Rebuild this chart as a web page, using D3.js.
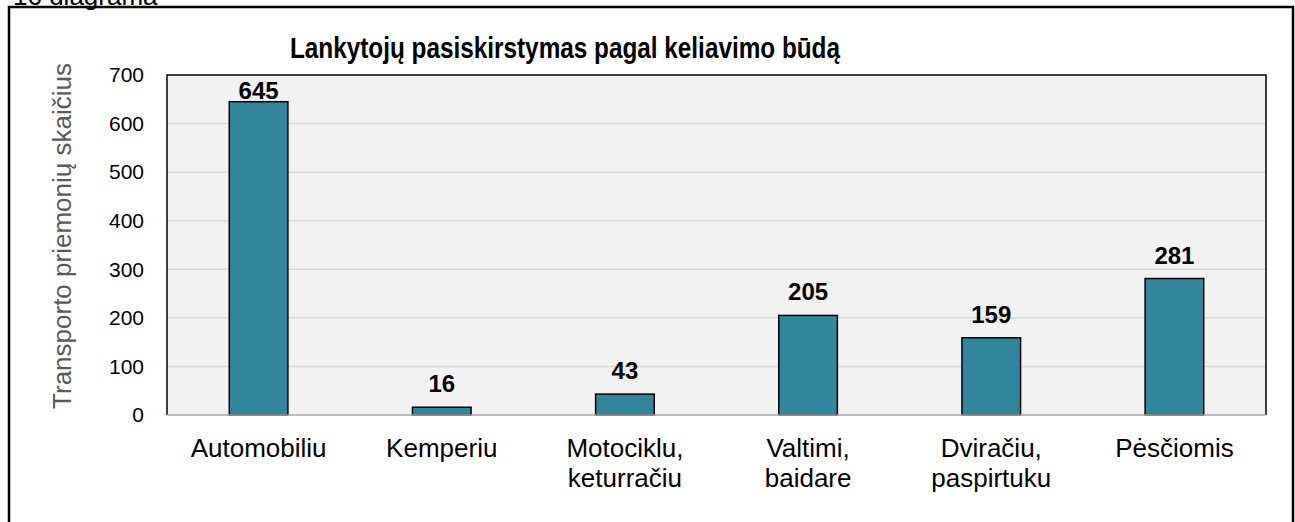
<!DOCTYPE html>
<meta charset="utf-8">
<html>
  <head>
    <style>
      body { margin: 0; background: #fff; }
      text { font-family: Arial, "Liberation Sans", sans-serif; }
    </style>
    <script src="https://d3js.org/d3.v7.min.js"></script>
  </head>
  <body>
<div id="my_dataviz"></div>

<script>

// data
var categories = [["Automobiliu"], ["Kemperiu"], ["Motociklu,", "keturračiu"],
                  ["Valtimi,", "baidare"], ["Dviračiu,", "paspirtuku"], ["Pėsčiomis"]];
var values = [645, 16, 43, 205, 159, 281];
var yTicks = [0, 100, 200, 300, 400, 500, 600, 700];

var W = 1295, H = 522;
var margin = {top: 75, right: 29, bottom: 107, left: 167},
  width = W - margin.left - margin.right,
  height = H - margin.top - margin.bottom;

var root = d3.select("#my_dataviz")
  .append("svg")
  .attr("width", W)
  .attr("height", H);

// caption above the frame (cut off in the original)
root.append("text")
  .attr("x", 13)
  .attr("y", 5)
  .style("font-size", "26px")
  .text("16 diagrama");

// outer frame
root.append("rect")
  .attr("x", 9).attr("y", 7)
  .attr("width", 1284).attr("height", 540)
  .attr("fill", "none")
  .attr("stroke", "#000")
  .attr("stroke-width", 2.5);

root.append("text")
  .attr("x", 290)
  .attr("y", 58)
  .attr("textLength", 550)
  .attr("lengthAdjust", "spacingAndGlyphs")
  .style("font-size", "29px")
  .style("font-weight", "bold")
  .text("Lankytojų pasiskirstymas pagal keliavimo būdą");

var svg = root.append("g")
  .attr("transform", "translate(" + margin.left + "," + margin.top + ")");

var idx = values.map(function(d, i) { return i; });

var x = d3.scaleBand()
  .range([0, width])
  .domain(idx)
  .paddingInner(0.68)
  .paddingOuter(0.34);

var y = d3.scaleLinear()
  .domain([0, 700])
  .range([height, 0]);

// plot background
svg.append("rect")
  .attr("width", width)
  .attr("height", height)
  .attr("fill", "#f2f2f2");

// gridlines
svg.selectAll(".grid")
  .data(yTicks.slice(1, -1))
  .enter()
  .append("line")
  .attr("x1", 0).attr("x2", width)
  .attr("y1", function(d) { return y(d); })
  .attr("y2", function(d) { return y(d); })
  .attr("stroke", "#d9d9d9")
  .attr("stroke-width", 1.5);

// bars
svg.selectAll(".bar")
  .data(values)
  .enter()
  .append("rect")
  .attr("x", function(d, i) { return x(i); })
  .attr("y", function(d) { return y(d); })
  .attr("width", x.bandwidth())
  .attr("height", function(d) { return height - y(d); })
  .attr("fill", "#31859c")
  .attr("stroke", "#000")
  .attr("stroke-width", 1.5);

// value labels
svg.selectAll(".lbl")
  .data(values)
  .enter()
  .append("text")
  .attr("x", function(d, i) { return x(i) + x.bandwidth() / 2; })
  .attr("y", function(d) { return Math.max(y(d) - 15, 24); })
  .attr("text-anchor", "middle")
  .style("font-size", "24px")
  .style("font-weight", "bold")
  .text(function(d) { return d; });

// plot border: black left, top, right; gray bottom axis
svg.append("path")
  .attr("d", "M0," + height + "V0H" + width + "V" + height)
  .attr("fill", "none")
  .attr("stroke", "#000")
  .attr("stroke-width", 1.5);
svg.append("line")
  .attr("x1", 0).attr("x2", width)
  .attr("y1", height).attr("y2", height)
  .attr("stroke", "#a6a6a6")
  .attr("stroke-width", 1.5);

// y axis
var yAxis = svg.append("g")
  .call(d3.axisLeft(y).tickValues(yTicks).tickSize(0).tickPadding(23));
yAxis.select(".domain").remove();
yAxis.selectAll("text")
  .style("font-size", "21px")
  .style("font-family", "Arial, 'Liberation Sans', sans-serif")
  .attr("fill", "#000");

// x axis labels (wrapped)
var xl = svg.selectAll(".xl")
  .data(categories)
  .enter()
  .append("text")
  .attr("text-anchor", "middle")
  .attr("transform", function(d, i) {
    return "translate(" + (x(i) + x.bandwidth() / 2) + "," + (height + 42) + ")";
  })
  .style("font-size", "26px");
xl.selectAll("tspan")
  .data(function(d) { return d; })
  .enter()
  .append("tspan")
  .attr("x", 0)
  .attr("dy", function(d, j) { return j === 0 ? 0 : 30; })
  .text(function(d) { return d; });

// y axis title
root.append("text")
  .attr("transform", "translate(71,236) rotate(-90)")
  .attr("text-anchor", "middle")
  .style("font-size", "26px")
  .attr("fill", "#595959")
  .text("Transporto priemonių skaičius");

</script>
</body>
